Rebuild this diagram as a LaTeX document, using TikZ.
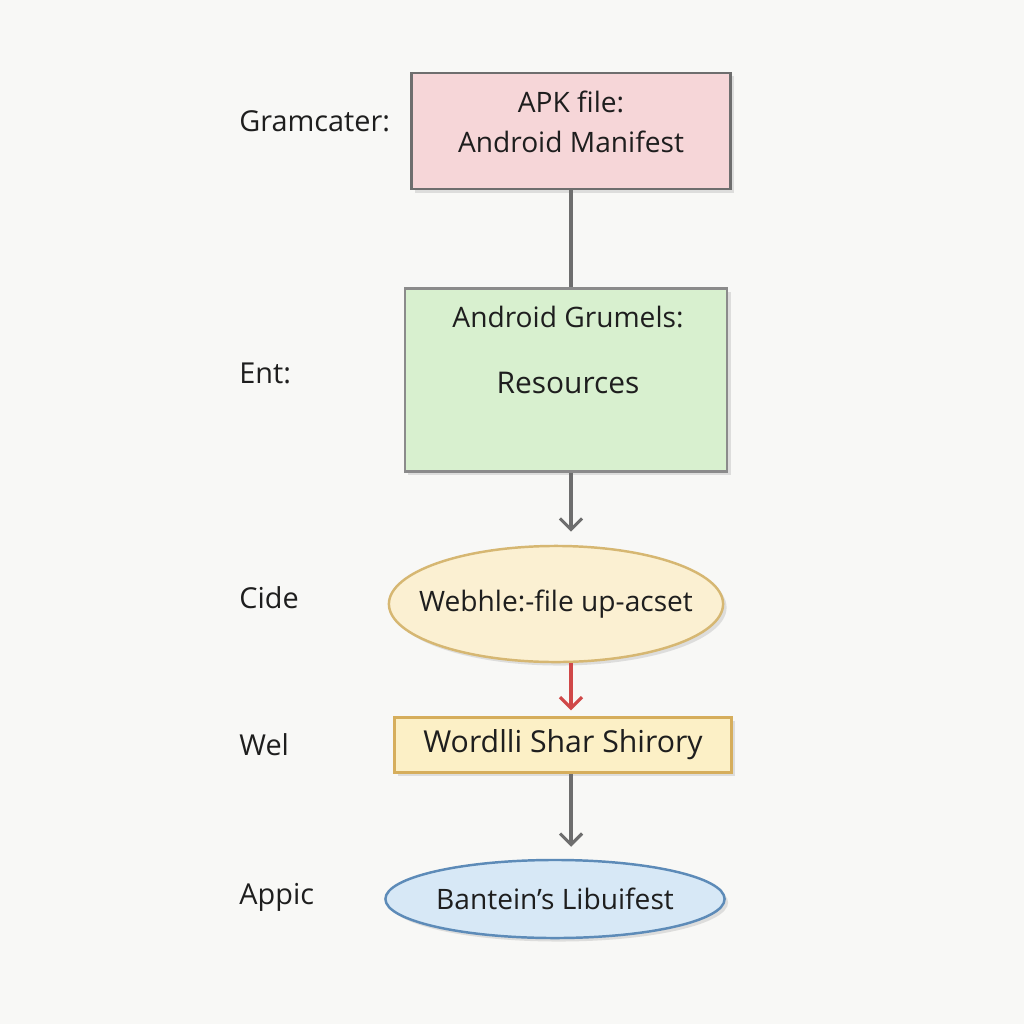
\documentclass[tikz,border=0pt]{standalone}
\usepackage{fontspec}
\setmainfont{Open Sans}
\usepackage{xcolor}
\usepackage{tikz}
\usetikzlibrary{positioning,arrows.meta,shapes.geometric,shadows}
\definecolor{paper}{HTML}{F8F8F6}
\definecolor{ink}{HTML}{1E1E1E}
\definecolor{wire}{HTML}{6E6E6E}
\definecolor{wirered}{HTML}{D04848}
\definecolor{rose}{HTML}{F6D6D8}
\definecolor{mint}{HTML}{D8F0CF}
\definecolor{cream}{HTML}{FBF0D2}
\definecolor{creamdraw}{HTML}{D6B772}
\definecolor{butter}{HTML}{FCF0C6}
\definecolor{butterdraw}{HTML}{D6AE5C}
\definecolor{sky}{HTML}{D7E8F6}
\definecolor{skydraw}{HTML}{5D8BB8}
\tikzset{
  every node/.style={font=\fontsize{8}{11.5}\selectfont, text=ink},
  soft/.style={drop shadow={opacity=0.22, shadow xshift=0.035cm, shadow yshift=-0.035cm}},
  stage/.style={
    rectangle, soft, line width=0.7pt,
    align=center, inner sep=0pt
  },
  blob/.style={
    ellipse, soft, line width=0.7pt,
    align=center, inner sep=0pt
  },
  sidelabel/.style={anchor=west, font=\fontsize{8.2}{10}\selectfont},
  link/.style={line width=0.9pt, draw=wire},
  arrow/.style={
    -{Straight Barb[length=1.1mm,width=2.2mm,line width=0.9pt]},
    line width=0.9pt, draw=wire
  },
}

\begin{document}
\begin{tikzpicture}[x=0.01cm, y=-0.01cm]
  \useasboundingbox[fill=paper] (0,0) rectangle (1024,1024);
  \node[stage, draw=wire, fill=rose, minimum width=3.19cm, minimum height=1.16cm] (manifest) at (571,131) {};
  \node[align=center] (manifesttext) at (571,122) {APK file:\\Android Manifest};
  \node[stage, draw=wire!80, fill=mint, minimum width=3.22cm, minimum height=1.83cm] (res) at (566,380) {};
  \node[font=\fontsize{8}{10}\selectfont] (restitle) at (568,317) {Android Grumels:};
  \node[font=\fontsize{8.5}{10}\selectfont] (resbody) at (568,383) {Resources};
  \node[blob, draw=creamdraw, fill=cream, minimum width=3.34cm, minimum height=1.16cm] (asset) at (556,604) {\makebox[1.5cm]{Webhle:-file up-acset}};
  \node[stage, draw=butterdraw, fill=butter, minimum width=3.37cm, minimum height=0.55cm, font=\fontsize{8.6}{10}\selectfont] (story) at (563,745) {Wordlli Shar Shirory};
  \node[blob, draw=skydraw, fill=sky, minimum width=3.39cm, minimum height=0.78cm] (lib) at (555,899) {\makebox[1.5cm]{Bantein's Libuifest}};
  \node[sidelabel] (gram) at (227,121) {Gramcater:};
  \node[sidelabel] (ent) at (227,373) {Ent:};
  \node[sidelabel] (cide) at (227,598) {Cide};
  \node[sidelabel] (wel) at (227,745) {Wel};
  \node[sidelabel] (appic) at (227,897) {Appic};
  \draw[link] (manifest.south) -- (manifest.south |- res.north);
  \draw[arrow, shorten >=0.13cm] (manifest.south |- res.south) -- (manifest.south |- asset.north);
  \draw[arrow, draw=wirered, shorten >=0.06cm] (manifest.south |- asset.south) -- (manifest.south |- story.north);
  \draw[arrow, shorten >=0.12cm] (manifest.south |- story.south) -- (manifest.south |- lib.north);
\end{tikzpicture}
\end{document}
